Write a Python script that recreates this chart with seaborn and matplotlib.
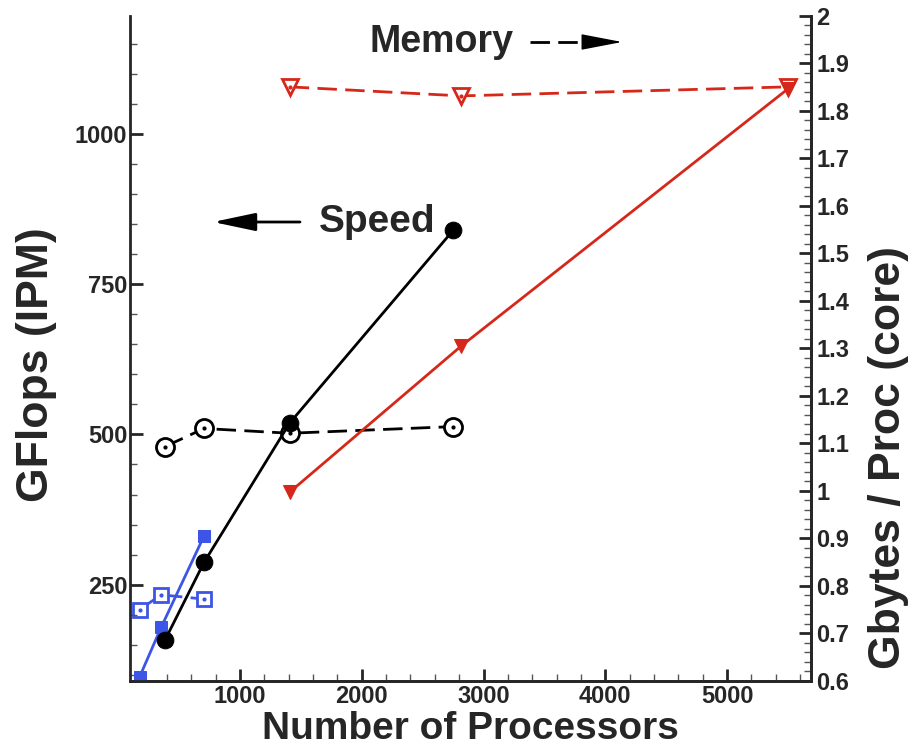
import matplotlib
matplotlib.use("Agg")
import matplotlib.pyplot as plt
from matplotlib.lines import Line2D
from matplotlib.ticker import MultipleLocator, FuncFormatter
import seaborn as sns

# --- data ---
black_procs = [384, 704, 1408, 2752]
black_speed = [158, 287, 519, 840]
black_mem = [1.093, 1.131, 1.121, 1.135]

blue_procs = [176, 352, 704]
blue_speed = [97, 179, 331]
blue_mem = [0.750, 0.781, 0.772]

red_procs = [1408, 2816, 5500]
red_speed = [404, 647, 1075]
red_mem = [1.850, 1.831, 1.850]

BLACK = "#000000"
BLUE = "#3d55e6"
RED = "#d6281a"

sns.set_style("ticks")
plt.rcParams["font.family"] = ["Liberation Sans", "DejaVu Sans"]
plt.rcParams["font.weight"] = "bold"
plt.rcParams["lines.scale_dashes"] = False
plt.rcParams["xtick.direction"] = "in"
plt.rcParams["ytick.direction"] = "in"

fig = plt.figure(figsize=(9.15, 7.54), dpi=100)
ax = fig.add_axes([130 / 915, 1 - 680.8 / 754, 681 / 915, 665.2 / 754])
ax2 = ax.twinx()
ax.set_zorder(ax2.get_zorder() + 1)
ax.patch.set_visible(False)

# speed (left axis, solid lines, filled symbols)
sns.lineplot(x=blue_procs, y=blue_speed, ax=ax, color=BLUE, lw=2, marker="s",
             markersize=9, markerfacecolor=BLUE, markeredgecolor=BLUE)
sns.lineplot(x=black_procs, y=black_speed, ax=ax, color=BLACK, lw=2, marker="o",
             markersize=12, markerfacecolor=BLACK, markeredgecolor=BLACK)
sns.lineplot(x=red_procs, y=red_speed, ax=ax, color=RED, lw=2, marker="v",
             markersize=10, markerfacecolor=RED, markeredgecolor=RED)

# memory (right axis, dashed lines, open symbols with centre dot)
mem_series = [
    (blue_procs, blue_mem, BLUE, "s", 10),
    (black_procs, black_mem, BLACK, "o", 13),
    (red_procs, red_mem, RED, "v", 11),
]
for xs, ys, col, mk, ms in mem_series:
    sns.lineplot(x=xs, y=ys, ax=ax2, color=col, lw=2, marker=mk, markersize=ms,
                 markerfacecolor="white", markeredgecolor=col, markeredgewidth=2)
    ax2.lines[-1].set_dashes([14, 6])
    ax2.plot(xs, ys, ls="none", marker="o", markersize=2, color=col)

ax.set_xlim(96, 5690)
ax.set_ylim(90, 1197)
ax2.set_ylim(0.6, 2.0)

ax.xaxis.set_major_locator(MultipleLocator(1000))
ax.xaxis.set_minor_locator(MultipleLocator(200))
ax.yaxis.set_major_locator(MultipleLocator(250))
ax.yaxis.set_minor_locator(MultipleLocator(50))
ax2.yaxis.set_major_locator(MultipleLocator(0.1))
ax2.yaxis.set_minor_locator(MultipleLocator(0.02))
ax2.yaxis.set_major_formatter(FuncFormatter(lambda v, p: f"{v:g}"))

for a in (ax, ax2):
    a.spines["top"].set_visible(False)
    for s in a.spines.values():
        s.set_linewidth(2)
    a.tick_params(which="major", direction="in", length=9, width=2, labelsize=17)
    a.tick_params(which="minor", direction="in", length=5, width=1, color="#555555")
ax.tick_params(axis="x", which="both", top=False, pad=3)
ax.tick_params(axis="y", which="both", right=False, pad=2)
ax2.tick_params(axis="y", which="both", left=False, right=True, direction="in", pad=4)
ax2.spines["left"].set_visible(False)

ax.set_xlabel("Number of Processors", fontsize=28, fontweight="bold", labelpad=2)
ax.set_ylabel("GFlops (IPM)", fontsize=32, fontweight="bold")
ax2.set_ylabel("Gbytes / Proc (core)", fontsize=32, fontweight="bold")
ax.yaxis.set_label_coords(-0.107, 0.476)
ax2.yaxis.set_label_coords(1.084, 0.335)

# in-plot annotations
fig.text(442 / 915, 1 - 42 / 754, "Memory", fontsize=27, fontweight="bold",
         ha="center", va="center")
fig.add_artist(Line2D([530 / 915, 590 / 915], [1 - 42 / 754] * 2, color="black",
                      lw=2, dashes=[14, 6]))
ax.annotate("", xy=(622 / 915, 1 - 42 / 754), xycoords="figure fraction",
            xytext=(584 / 915, 1 - 42 / 754), textcoords="figure fraction",
            arrowprops=dict(arrowstyle="-|>,head_length=2.6,head_width=0.5",
                            color="black", lw=1, mutation_scale=10,
                            shrinkA=0, shrinkB=0))

fig.text(377 / 915, 1 - 222 / 754, "Speed", fontsize=28, fontweight="bold",
         ha="center", va="center")
ax.annotate("", xy=(213 / 915, 1 - 222 / 754), xycoords="figure fraction",
            xytext=(300 / 915, 1 - 222 / 754), textcoords="figure fraction",
            arrowprops=dict(arrowstyle="-|>,head_length=2.6,head_width=0.55",
                            color="black", lw=2, mutation_scale=10,
                            shrinkA=0, shrinkB=0))

fig.savefig("out.png", dpi=100)
plt.close(fig)
